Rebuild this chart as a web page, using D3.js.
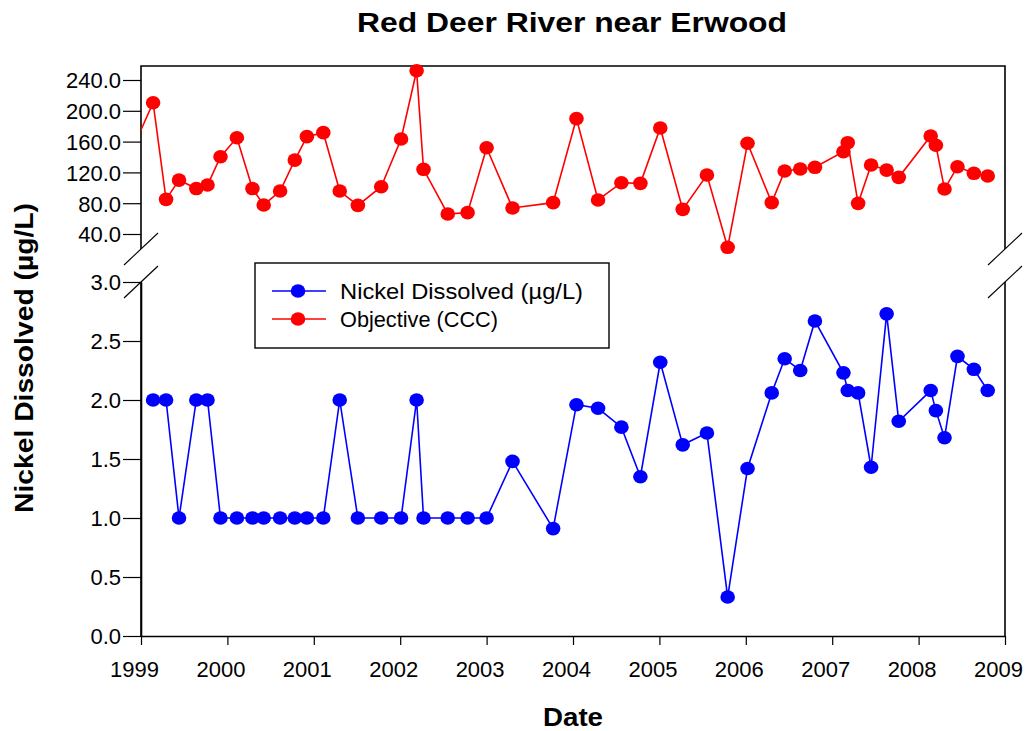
<!DOCTYPE html>
<html>
<head>
<meta charset="utf-8">
<script src="https://cdn.jsdelivr.net/npm/d3@7"></script>
<style>
  html, body { margin: 0; padding: 0; background: #fff; }
  svg { display: block; font-family: "Liberation Sans", Arial, sans-serif; }
</style>
</head>
<body>
<svg id="chart" width="1027" height="731"></svg>
<script>
// ---------- data (decimal years) ----------
const sampleDates = [
  1999.14, 1999.29, 1999.44, 1999.64, 1999.77, 1999.92, 2000.11, 2000.29, 2000.42, 2000.61,
  2000.78, 2000.92, 2001.11, 2001.30, 2001.51, 2001.78, 2002.01, 2002.19, 2002.27, 2002.55,
  2002.78, 2003.00, 2003.30, 2003.77, 2004.04, 2004.29, 2004.56, 2004.78, 2005.01, 2005.27,
  2005.55, 2005.79, 2006.02, 2006.30, 2006.45, 2006.63, 2006.80, 2007.13, 2007.18, 2007.30,
  2007.45, 2007.63, 2007.77, 2008.14, 2008.20, 2008.30, 2008.45, 2008.64, 2008.80
];
const nickelDissolved = [
  2.0, 2.0, 1.0, 2.0, 2.0, 1.0, 1.0, 1.0, 1.0, 1.0,
  1.0, 1.0, 1.0, 2.0, 1.0, 1.0, 1.0, 2.0, 1.0, 1.0,
  1.0, 1.0, 1.48, 0.91, 1.96, 1.93, 1.77, 1.35, 2.32, 1.62,
  1.72, 0.33, 1.42, 2.06, 2.35, 2.25, 2.67, 2.23, 2.08, 2.06,
  1.43, 2.73, 1.82, 2.08, 1.91, 1.68, 2.37, 2.26, 2.08
];
const objectiveCCC = [
  210.5, 85, 110, 99, 103.6, 140.4, 165, 99, 77.7, 95.8,
  136, 166.4, 171.6, 95.8, 77.2, 101.4, 163.4, 252, 124, 66,
  67.7, 152, 73.8, 80.7, 189.8, 84.2, 106.6, 105.8, 177.7, 72,
  116.6, 22.7, 157.8, 80.7, 121.8, 124.4, 126.6, 146.9, 158.6, 79.8,
  129.6, 123, 113.6, 167.3, 155.2, 98.4, 127.4, 118.8, 115.3
];
// sample just before the plotted range (its line segment enters at the left edge)
const objectiveLeadDate = 1998.90;
const objectiveLeadValue = 150;

const xTickValues = [1999, 2000, 2001, 2002, 2003, 2004, 2005, 2006, 2007, 2008, 2009];
const lowerTickValues = [0.0, 0.5, 1.0, 1.5, 2.0, 2.5, 3.0];
const upperTickValues = [40, 80, 120, 160, 200, 240];
const seriesNames = ["Nickel Dissolved (µg/L)", "Objective (CCC)"];
const seriesColors = ["#0000ff", "#ff0000"];

// ---------- layout ----------
const svg = d3.select("#chart");
const left = 141, right = 1005;
const lowerTop = 282, lowerBottom = 636;
const upperTop = 66, upperBottom = 249;

const x = d3.scaleLinear().domain([1999, 2009]).range([left, right]);
const yLow = d3.scaleLinear().domain([0, 3]).range([lowerBottom, lowerTop]);
const yUp = d3.scaleLinear().domain([40, 240]).range([234, 80]);

svg.append("defs").append("clipPath").attr("id", "plotClip")
  .append("rect").attr("x", left).attr("y", 0).attr("width", right - left).attr("height", 731);

const tickFont = 22;

// ---------- axes ----------
const axisColor = "#000";
const xAxis = d3.axisBottom(x).tickValues(xTickValues).tickFormat(d3.format("d")).tickSize(9).tickSizeOuter(0);
const gx = svg.append("g").attr("transform", `translate(0,${lowerBottom})`).call(xAxis);
gx.select(".domain").attr("stroke-width", 1.6);
gx.selectAll(".tick line").attr("stroke-width", 1.2);
gx.selectAll(".tick text").attr("font-size", tickFont).attr("y", 41).attr("dy", 0).attr("dx", -7).attr("fill", "#000");

const yLowAxis = d3.axisLeft(yLow).tickValues(lowerTickValues).tickFormat(d3.format(".1f")).tickSize(18).tickSizeOuter(0);
const gyl = svg.append("g").attr("transform", `translate(${left},0)`).call(yLowAxis);
gyl.select(".domain").attr("stroke-width", 1.6);
gyl.selectAll(".tick line").attr("stroke-width", 1.2);
gyl.selectAll(".tick text").attr("font-size", tickFont).attr("x", -20).attr("dy", "0.36em").attr("fill", "#000");

const yUpAxis = d3.axisLeft(yUp).tickValues(upperTickValues).tickFormat(d3.format(".1f")).tickSize(18).tickSizeOuter(0);
const gyu = svg.append("g").attr("transform", `translate(${left},0)`).call(yUpAxis);
gyu.select(".domain").remove();
gyu.selectAll(".tick line").attr("stroke-width", 1.2);
gyu.selectAll(".tick text").attr("font-size", tickFont).attr("x", -20).attr("dy", "0.36em").attr("fill", "#000");

// frame lines
const frame = svg.append("g").attr("stroke", axisColor).attr("stroke-width", 1.6).attr("fill", "none");
frame.append("path").attr("d", `M${left},${upperBottom}V${upperTop}H${right}V${upperBottom}`);
frame.append("path").attr("d", `M${right},${lowerTop}V${lowerBottom}`);
frame.append("path").attr("d", `M${left},${lowerTop}V${lowerBottom}`);

// break marks
const brk = svg.append("g").attr("stroke", axisColor).attr("stroke-width", 1.1);
[left, right].forEach(bx => {
  [upperBottom, lowerTop].forEach(by => {
    brk.append("line").attr("x1", bx - 17).attr("y1", by + 16).attr("x2", bx + 17).attr("y2", by - 16);
  });
});

// ---------- series ----------
const lowerData = sampleDates.map((d, i) => ({ date: d, value: nickelDissolved[i] }));
const upperData = [{ date: objectiveLeadDate, value: objectiveLeadValue }]
  .concat(sampleDates.map((d, i) => ({ date: d, value: objectiveCCC[i] })));

const lineLow = d3.line().x(d => x(d.date)).y(d => yLow(d.value));
const lineUp = d3.line().x(d => x(d.date)).y(d => yUp(d.value));

svg.append("path").datum(upperData).attr("d", lineUp)
  .attr("fill", "none").attr("stroke", seriesColors[1]).attr("stroke-width", 1.6)
  .attr("clip-path", "url(#plotClip)");
svg.append("g").selectAll("ellipse").data(upperData.slice(1)).join("ellipse")
  .attr("cx", d => x(d.date)).attr("cy", d => yUp(d.value))
  .attr("rx", 7.3).attr("ry", 6.8).attr("fill", seriesColors[1]);

svg.append("path").datum(lowerData).attr("d", lineLow)
  .attr("fill", "none").attr("stroke", seriesColors[0]).attr("stroke-width", 1.6);
svg.append("g").selectAll("ellipse").data(lowerData).join("ellipse")
  .attr("cx", d => x(d.date)).attr("cy", d => yLow(d.value))
  .attr("rx", 7.3).attr("ry", 6.8).attr("fill", seriesColors[0]);

// ---------- legend ----------
const legendTextLengths = [243, 158];
const lg = svg.append("g");
lg.append("rect").attr("x", 255).attr("y", 263).attr("width", 354).attr("height", 85)
  .attr("fill", "#fff").attr("stroke", "#000").attr("stroke-width", 1.4);
seriesNames.forEach((name, i) => {
  const cy = 291 + i * 28;
  lg.append("line").attr("x1", 272).attr("x2", 326).attr("y1", cy).attr("y2", cy)
    .attr("stroke", seriesColors[i]).attr("stroke-width", 1.6);
  lg.append("ellipse").attr("cx", 298).attr("cy", cy).attr("rx", 7.3).attr("ry", 6.8).attr("fill", seriesColors[i]);
  lg.append("text").attr("x", 340).attr("y", cy).attr("dy", "0.36em")
    .attr("font-size", 22.5).attr("fill", "#000")
    .attr("textLength", legendTextLengths[i]).attr("lengthAdjust", "spacingAndGlyphs").text(name);
});

// ---------- titles ----------
svg.append("text").attr("x", 572).attr("y", 32).attr("text-anchor", "middle")
  .attr("font-size", 27).attr("font-weight", "bold")
  .attr("textLength", 430).attr("lengthAdjust", "spacingAndGlyphs").text("Red Deer River near Erwood");
svg.append("text").attr("x", 573).attr("y", 726).attr("text-anchor", "middle")
  .attr("font-size", 25).attr("font-weight", "bold")
  .attr("textLength", 60).attr("lengthAdjust", "spacingAndGlyphs").text("Date");
svg.append("text").attr("transform", "translate(33,358) rotate(-90)").attr("text-anchor", "middle")
  .attr("font-size", 25).attr("font-weight", "bold")
  .attr("textLength", 310).attr("lengthAdjust", "spacingAndGlyphs").text("Nickel Dissolved (µg/L)");
</script>
</body>
</html>
